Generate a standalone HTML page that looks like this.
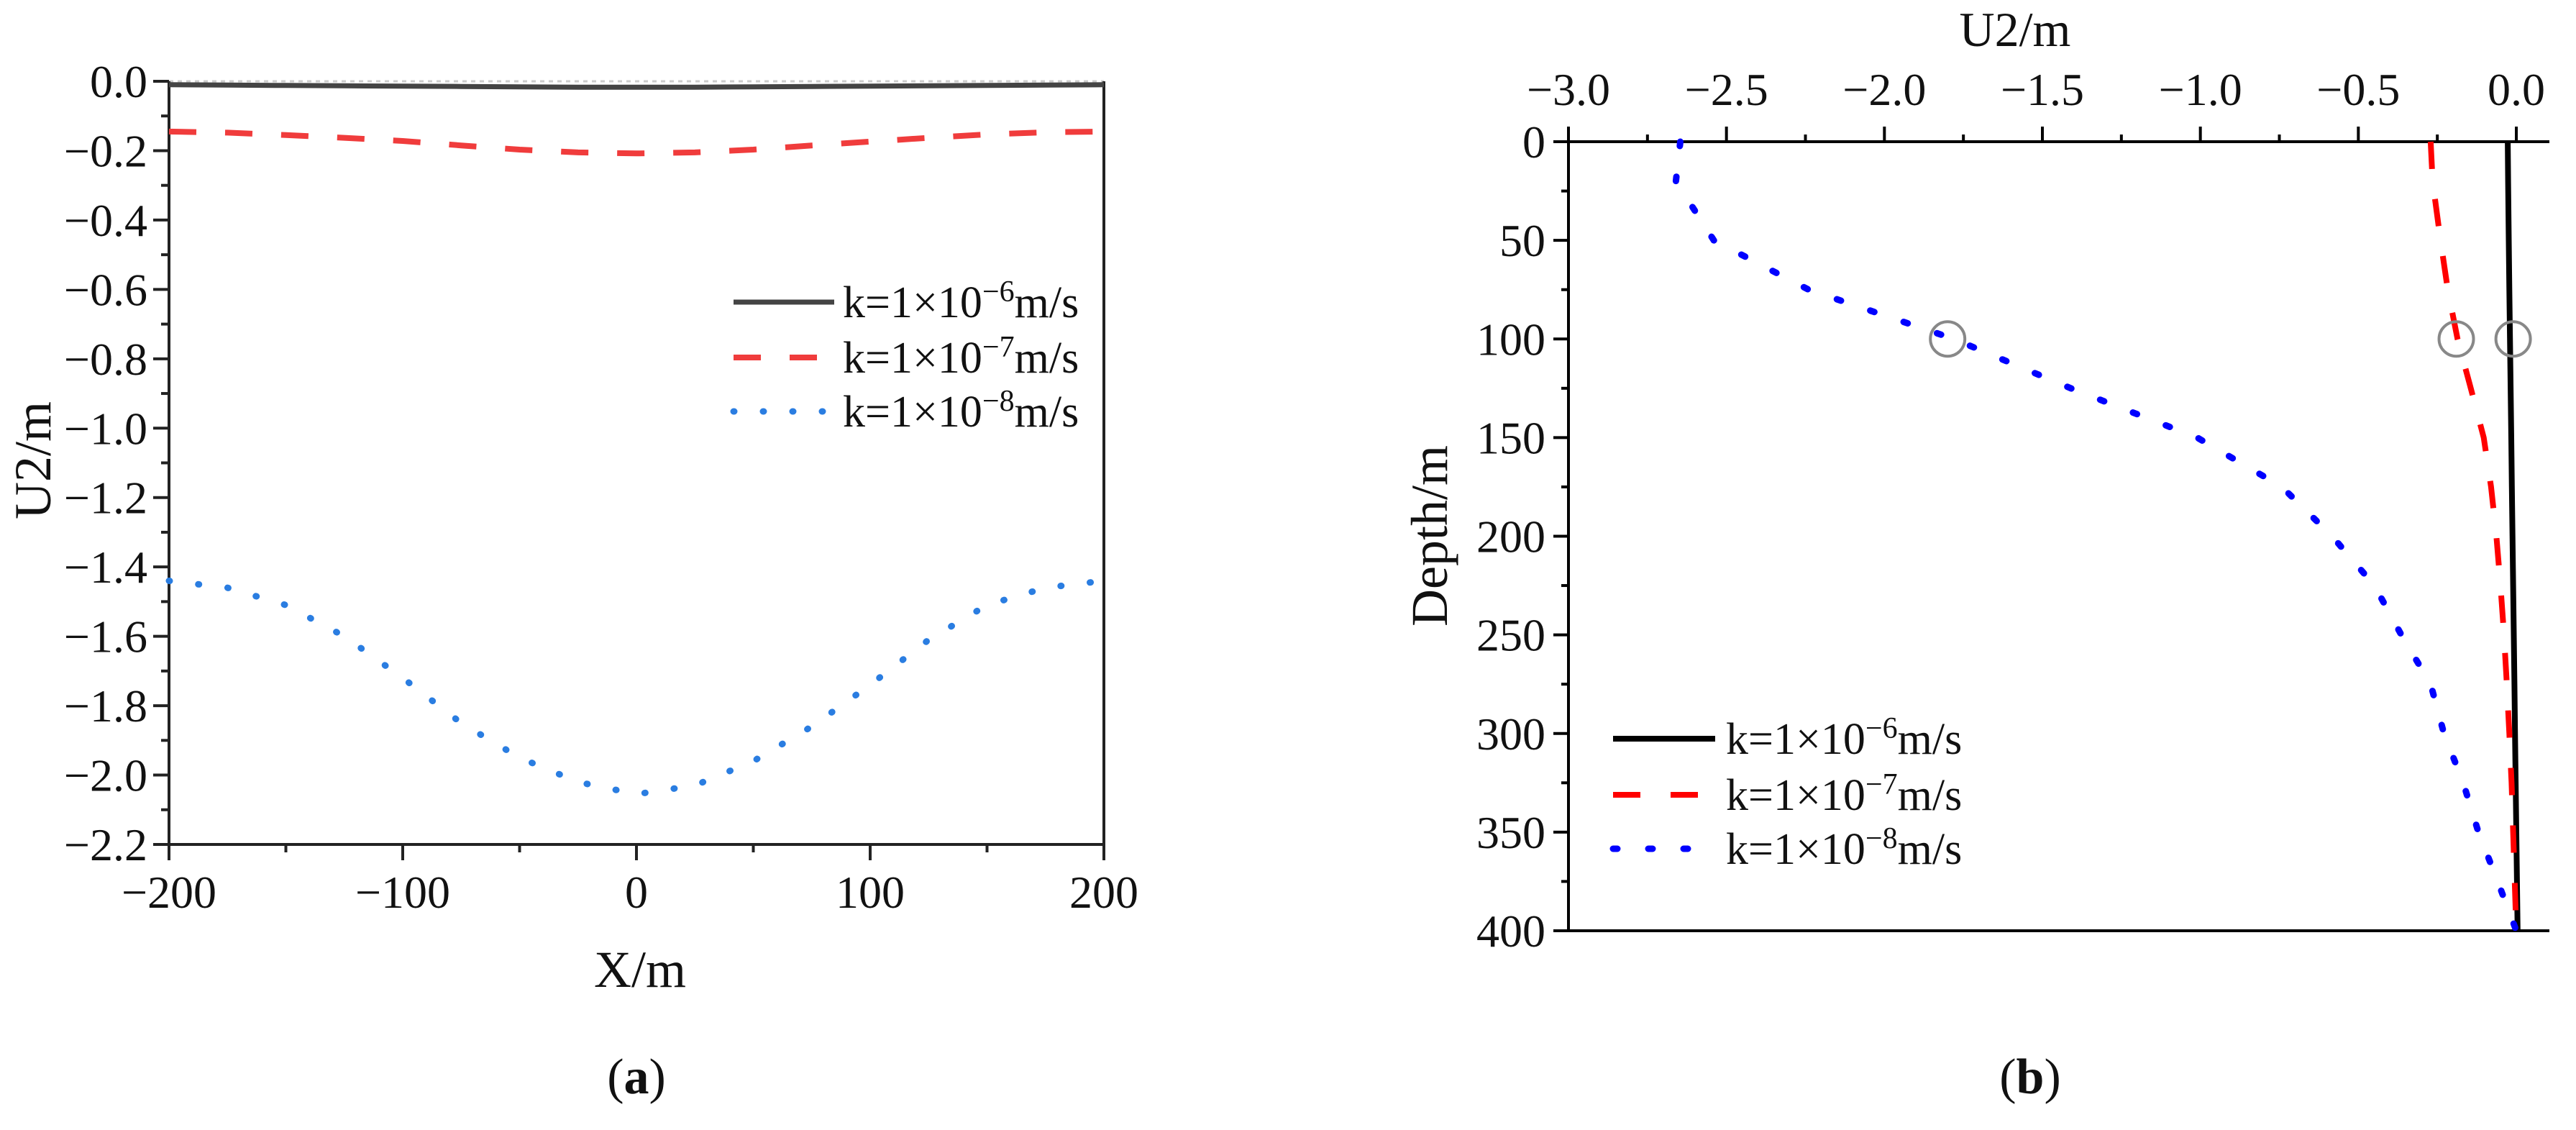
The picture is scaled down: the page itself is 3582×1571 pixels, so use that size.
<!DOCTYPE html>
<html><head><meta charset="utf-8"><style>
html,body{margin:0;padding:0;background:#fff;}
svg{display:block;font-family:"Liberation Serif",serif;}
</style></head><body>
<svg id="fig" width="3582" height="1571" viewBox="0 0 3582 1571" xmlns="http://www.w3.org/2000/svg">
<g id="pa"></g>
<g id="pb"></g>
</svg>
<script>
// ---- Panel (a) data ----
const xA = [-200,-175,-150,-125,-100,-75,-50,-25,0,25,50,75,100,125,150,175,200];
const blackA = [-0.010,-0.011,-0.012,-0.013,-0.014,-0.015,-0.016,-0.017,-0.017,-0.017,-0.016,-0.015,-0.014,-0.013,-0.012,-0.011,-0.010];
const redA = [-0.145,-0.148,-0.155,-0.163,-0.172,-0.185,-0.197,-0.205,-0.208,-0.205,-0.197,-0.185,-0.174,-0.163,-0.153,-0.147,-0.145];
const blueA = [-1.44,-1.46,-1.51,-1.60,-1.72,-1.85,-1.95,-2.02,-2.055,-2.03,-1.96,-1.86,-1.74,-1.61,-1.51,-1.46,-1.44];
const xTicksA = [-200,-100,0,100,200];
const xTickLabelsA = ["\u2212200","\u2212100","0","100","200"];
const yTicksA = [0,-0.2,-0.4,-0.6,-0.8,-1.0,-1.2,-1.4,-1.6,-1.8,-2.0,-2.2];
const yTickLabelsA = ["0.0","\u22120.2","\u22120.4","\u22120.6","\u22120.8","\u22121.0","\u22121.2","\u22121.4","\u22121.6","\u22121.8","\u22122.0","\u22122.2"];
// ---- Panel (b) data ----
const depthB = [0,20,50,75,100,125,150,175,200,225,250,275,300,325,350,375,400];
const blueB = [-2.646,-2.66,-2.54,-2.24,-1.78,-1.41,-1.01,-0.742,-0.583,-0.449,-0.364,-0.271,-0.229,-0.168,-0.12,-0.059,0.0];
const redB = [-0.271,-0.265,-0.24,-0.217,-0.186,-0.144,-0.103,-0.08,-0.063,-0.05,-0.039,-0.03,-0.022,-0.015,-0.01,-0.005,0.0];
const blackB = [-0.027,-0.026,-0.024,-0.022,-0.020,-0.018,-0.016,-0.014,-0.012,-0.010,-0.008,-0.006,-0.004,-0.002,0.000,0.002,0.004];
const circleDepthB = [100,100,100];
const circleValB = [-1.80,-0.19,-0.01];
const xTicksB = [-3.0,-2.5,-2.0,-1.5,-1.0,-0.5,0.0];
const xTickLabelsB = ["\u22123.0","\u22122.5","\u22122.0","\u22121.5","\u22121.0","\u22120.5","0.0"];
const yTicksB = [0,50,100,150,200,250,300,350,400];
const yTickLabelsB = ["0","50","100","150","200","250","300","350","400"];
const legendLabels = ["k=1\u00d710","k=1\u00d710","k=1\u00d710"];
const legendExps = ["\u22126","\u22127","\u22128"];

const NS="http://www.w3.org/2000/svg";
function mk(parent,tag,attrs,text){const e=document.createElementNS(NS,tag);for(const k in attrs)e.setAttribute(k,attrs[k]);if(text!==undefined)e.textContent=text;parent.appendChild(e);return e;}
function pathD(xs,ys,fx,fy){return xs.map((v,i)=>(i?"L":"M")+fx(v).toFixed(1)+" "+fy(ys[i]).toFixed(1)).join(" ");}

const TICK=64, TITLE=72, LEG=62, CAP=70;

// ---- Panel (a) ----
const pa=document.getElementById('pa');
const aL=235,aR=1535,aT=113,aB=1174;
const axA=v=>aL+(v+200)/400*(aR-aL);
const ayA=v=>aT+(0-v)/2.2*(aB-aT);
let e;
e=mk(pa,'line',{x1:aL,y1:aT,x2:aR,y2:aT,stroke:'#ccc','stroke-width':3,'stroke-dasharray':'6 6'});

e=mk(pa,'path',{d:`M${aL} ${aT} V${aB} H${aR} V${aT}`,fill:'none',stroke:'#222','stroke-width':4});

yTicksA.forEach((v,i)=>{
  e=mk(pa,'line',{x1:aL-22,y1:ayA(v),x2:aL,y2:ayA(v),stroke:'#222','stroke-width':4});
  
  if(i<yTicksA.length-1){e=mk(pa,'line',{x1:aL-11,y1:ayA(v-0.1),x2:aL,y2:ayA(v-0.1),stroke:'#222','stroke-width':4});
  }
  e=mk(pa,'text',{x:aL-30,y:ayA(v)+22,'text-anchor':'end','font-size':TICK,fill:'#111'},yTickLabelsA[i]);
  
});
xTicksA.forEach((v,i)=>{
  e=mk(pa,'line',{x1:axA(v),y1:aB,x2:axA(v),y2:aB+22,stroke:'#222','stroke-width':4});
  
  if(i<xTicksA.length-1){e=mk(pa,'line',{x1:axA(v+50),y1:aB,x2:axA(v+50),y2:aB+11,stroke:'#222','stroke-width':4});
  }
  e=mk(pa,'text',{x:axA(v),y:aB+88,'text-anchor':'middle','font-size':TICK,fill:'#111'},xTickLabelsA[i]);
  
});
e=mk(pa,'text',{x:890,y:1372,'text-anchor':'middle','font-size':TITLE,fill:'#111'},'X/m');

e=mk(pa,'text',{x:0,y:0,'text-anchor':'middle','font-size':TITLE,fill:'#111',transform:'translate(70,640) rotate(-90)'},'U2/m');

e=mk(pa,'path',{d:pathD(xA,blackA,axA,ayA),fill:'none',stroke:'#444','stroke-width':7});

e=mk(pa,'path',{d:pathD(xA,redA,axA,ayA),fill:'none',stroke:'#f03c3c','stroke-width':8,'stroke-dasharray':'38 40'});

e=mk(pa,'path',{d:pathD(xA,blueA,axA,ayA),fill:'none',stroke:'#2a7de1','stroke-width':9,'stroke-dasharray':'1 40','stroke-linecap':'round'});

const legA=[{c:'#444',d:'none',w:7,cap:'butt'},{c:'#f03c3c',d:'38 40',w:8,cap:'butt'},{c:'#2a7de1',d:'1 40',w:9,cap:'round'}];
[420,497,572].forEach((y,i)=>{
  e=mk(pa,'line',{x1:1020,y1:y,x2:1160,y2:y,stroke:legA[i].c,'stroke-width':legA[i].w,'stroke-dasharray':legA[i].d,'stroke-linecap':legA[i].cap});
  
  const t=mk(pa,'text',{x:1172,y:y+21,'font-size':LEG,fill:'#111'});
  
  t.appendChild(document.createTextNode(legendLabels[i]));
  mk(t,'tspan',{dy:-22,'font-size':42},legendExps[i]);
  mk(t,'tspan',{dy:22},'m/s');
});
e=mk(pa,'text',{x:885,y:1520,'text-anchor':'middle','font-size':CAP,fill:'#111'},'');

e.appendChild(document.createTextNode('('));mk(e,'tspan',{'font-weight':'bold'},'a');e.appendChild(document.createTextNode(')'));

// ---- Panel (b) ----
const pb=document.getElementById('pb');
const bL=2181,b0=3499,bR=3545,bT=197,bB=1294;
const axB=v=>b0+v/3*(b0-bL);
const ayB=d=>bT+d/400*(bB-bT);
e=mk(pb,'path',{d:`M${bL-20} ${bT} H${bR} M${bL} ${bT} V${bB} M${bL-20} ${bB} H${bR}`,fill:'none',stroke:'#000','stroke-width':4});

xTicksB.forEach((v,i)=>{
  e=mk(pb,'line',{x1:axB(v),y1:bT,x2:axB(v),y2:bT-21,stroke:'#000','stroke-width':4});
  
  if(i<xTicksB.length-1){e=mk(pb,'line',{x1:axB(v+0.25),y1:bT,x2:axB(v+0.25),y2:bT-10,stroke:'#000','stroke-width':4});
  }
  e=mk(pb,'text',{x:axB(v),y:146,'text-anchor':'middle','font-size':TICK,fill:'#111'},xTickLabelsB[i]);
  
});
yTicksB.forEach((v,i)=>{
  e=mk(pb,'line',{x1:bL-21,y1:ayB(v),x2:bL,y2:ayB(v),stroke:'#000','stroke-width':4});
  
  if(i<yTicksB.length-1){e=mk(pb,'line',{x1:bL-10,y1:ayB(v+25),x2:bL,y2:ayB(v+25),stroke:'#000','stroke-width':4});
  }
  e=mk(pb,'text',{x:bL-32,y:ayB(v)+22,'text-anchor':'end','font-size':TICK,fill:'#111'},yTickLabelsB[i]);
  
});
e=mk(pb,'text',{x:2802,y:64,'text-anchor':'middle','font-size':68,fill:'#111'},'U2/m');

e=mk(pb,'text',{x:0,y:0,'text-anchor':'middle','font-size':TITLE,fill:'#111',transform:'translate(2012,745) rotate(-90)'},'Depth/m');

e=mk(pb,'path',{d:pathD(blackB,depthB,axB,ayB),fill:'none',stroke:'#000','stroke-width':8});

e=mk(pb,'path',{d:pathD(redB,depthB,axB,ayB),fill:'none',stroke:'#ff0000','stroke-width':8,'stroke-dasharray':'38 42'});

e=mk(pb,'path',{d:pathD(blueB,depthB,axB,ayB),fill:'none',stroke:'#0000ff','stroke-width':9,'stroke-dasharray':'6 43','stroke-linecap':'round'});

circleValB.forEach((v,i)=>{
  e=mk(pb,'circle',{cx:axB(v),cy:ayB(circleDepthB[i]),r:24,fill:'none',stroke:'#888','stroke-width':4});
  
});
const legB=[{c:'#000',d:'none',w:8,cap:'butt'},{c:'#ff0000',d:'38 42',w:8,cap:'butt'},{c:'#0000ff',d:'6 43',w:9,cap:'round'}];
[1027,1105,1180].forEach((y,i)=>{
  e=mk(pb,'line',{x1:2243,y1:y,x2:2385,y2:y,stroke:legB[i].c,'stroke-width':legB[i].w,'stroke-dasharray':legB[i].d,'stroke-linecap':legB[i].cap});
  
  const t=mk(pb,'text',{x:2400,y:y+21,'font-size':LEG,fill:'#111'});
  
  t.appendChild(document.createTextNode(legendLabels[i]));
  mk(t,'tspan',{dy:-22,'font-size':42},legendExps[i]);
  mk(t,'tspan',{dy:22},'m/s');
});
e=mk(pb,'text',{x:2823,y:1520,'text-anchor':'middle','font-size':CAP,fill:'#111'},'');

e.appendChild(document.createTextNode('('));mk(e,'tspan',{'font-weight':'bold'},'b');e.appendChild(document.createTextNode(')'));
</script>
</body></html>
